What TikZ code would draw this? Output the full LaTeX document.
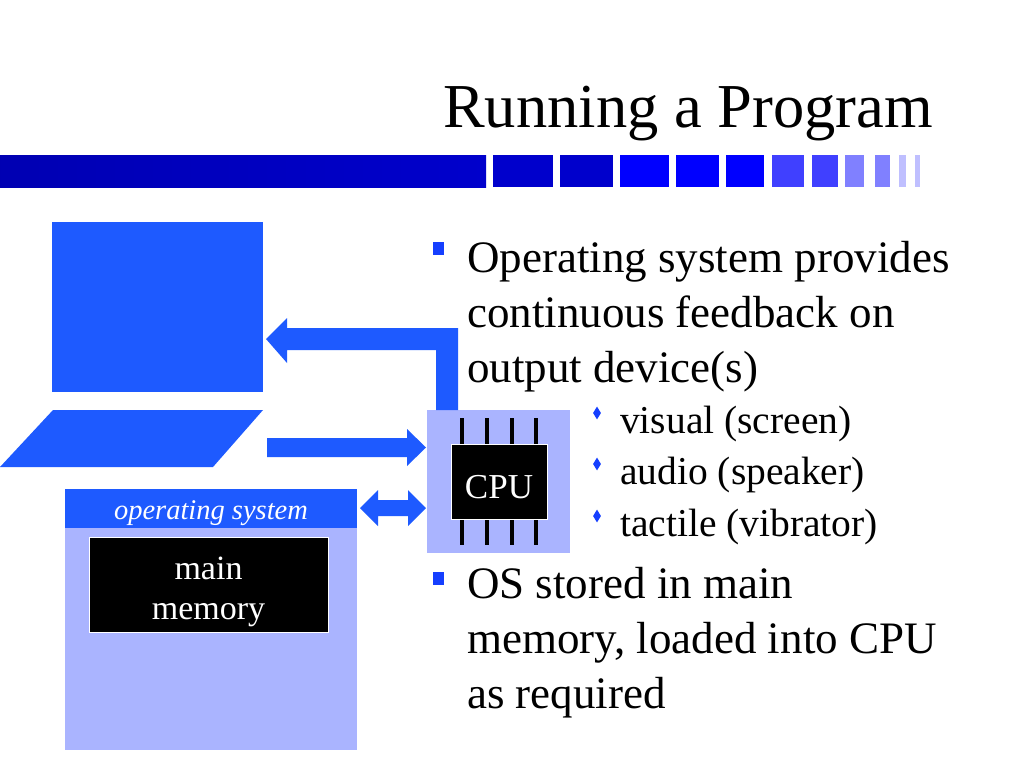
\documentclass[tikz,border=0pt]{standalone}
\usepackage{fontspec}
\usetikzlibrary{shapes.geometric}
\setmainfont{Liberation Serif}
\begin{document}
\begin{tikzpicture}[x=1pt,y=-1pt,
  bl/.style={fill=bblue,draw=none},
  txt/.style={anchor=base west,inner sep=0pt,font=\fontsize{45}{54}\selectfont},
  sub/.style={anchor=base west,inner sep=0pt,font=\fontsize{39.5}{46}\selectfont},
  lab/.style={anchor=base,inner sep=0pt,text=white,font=\fontsize{34}{41}\selectfont},
  sq/.style={fill=bblue!70!blue,minimum width=11pt,minimum height=13pt,inner sep=0pt},
  dia/.style={fill=bblue!70!blue,diamond,minimum width=8pt,minimum height=13pt,inner sep=0pt},
  pin/.style={line width=4pt,black}]
\definecolor{bblue}{RGB}{30,90,255}
\definecolor{lblue}{RGB}{170,180,255}
\useasboundingbox (0,0) rectangle (1024,768);
\fill[white] (0,0) rectangle (1024,768);
\node[anchor=base,font=\fontsize{62.5}{66}\selectfont] (title) at (688,127) {Running a Program};
% header bar
\fill[left color=blue!70!black,right color=blue!80!black] (0,155) rectangle (486,187);
\foreach \a/\b/\c in {493/553/blue!80!black,560/613/blue!80!black,620/669/blue,676/719/blue,726/764/blue,772/804/blue!75!white,812/838/blue!75!white,845/864/blue!50!white,875/890/blue!50!white,899/906/blue!25!white,915/920/blue!25!white}
  \fill[\c] (\a,155) rectangle (\b,187);
% monitor and keyboard
\fill[bblue] (52,222) rectangle (263,392);
\fill[bblue] (53,410) -- (263,410) -- (213,467) -- (0,467) -- cycle;
% CPU
\node[fill=lblue,minimum width=143pt,minimum height=143pt,inner sep=0pt] (cpubox) at (498.5,481.5) {};
\foreach \x in {462,487,512,536}{\draw[pin] (\x,418) -- (\x,545);}
\node[fill=black,draw=white,line width=1pt,minimum width=96pt,minimum height=75pt] (cpu) at (499,481.5) {};
\node[lab,font=\fontsize{35}{36}\selectfont] (cpulab) at (499,498) {CPU};
% arrows
\fill[bl] (458,410) -- (458,328) -- (287,328) -- (287,318) -- (266,339) -- (287,363) -- (287,350) -- (436,350) -- (436,410) -- cycle;
\fill[bl] (267,438) -- (407,438) -- (407,429) -- (426,447.5) -- (407,466) -- (407,457) -- (267,457) -- cycle;
\fill[bl] (360,508) -- (378,490) -- (378,500) -- (408,500) -- (408,490) -- (426,508) -- (408,526) -- (408,516) -- (378,516) -- (378,526) -- cycle;
% OS box
\fill[lblue] (65,528) rectangle (357,750);
\node[fill=bblue,minimum width=292pt,minimum height=39pt,inner sep=0pt] (os) at (211,508.5) {};
\node[lab,font=\fontsize{28.5}{30}\selectfont\itshape] (oslab) at (211,519) {operating system};
\node[fill=black,draw=white,line width=1pt,minimum width=239pt,minimum height=95pt] (mem) at (208.5,584.5) {};
\node[lab] (m1) at (208.5,579) {main};
\node[lab] (m2) at (208.5,619) {memory};
% bullets
\node[sq] (b1) at (438,248) {};
\node[txt] (t1) at (467,272) {Operating system provides};
\node[txt] (t2) at (467,327) {continuous feedback on};
\node[txt] (t3) at (467,382) {output device(s)};
\node[dia] (d1) at (597,413) {};
\node[sub] (s1) at (620,433) {visual (screen)};
\node[dia] (d2) at (597,464) {};
\node[sub] (s2) at (620,484) {audio (speaker)};
\node[dia] (d3) at (597,516) {};
\node[sub] (s3) at (620,536) {tactile (vibrator)};
\node[sq] (b2) at (438,578) {};
\node[txt] (t4) at (467,598) {OS stored in main};
\node[txt] (t5) at (467,653) {memory, loaded into CPU};
\node[txt] (t6) at (467,708) {as required};
\end{tikzpicture}
\end{document}
